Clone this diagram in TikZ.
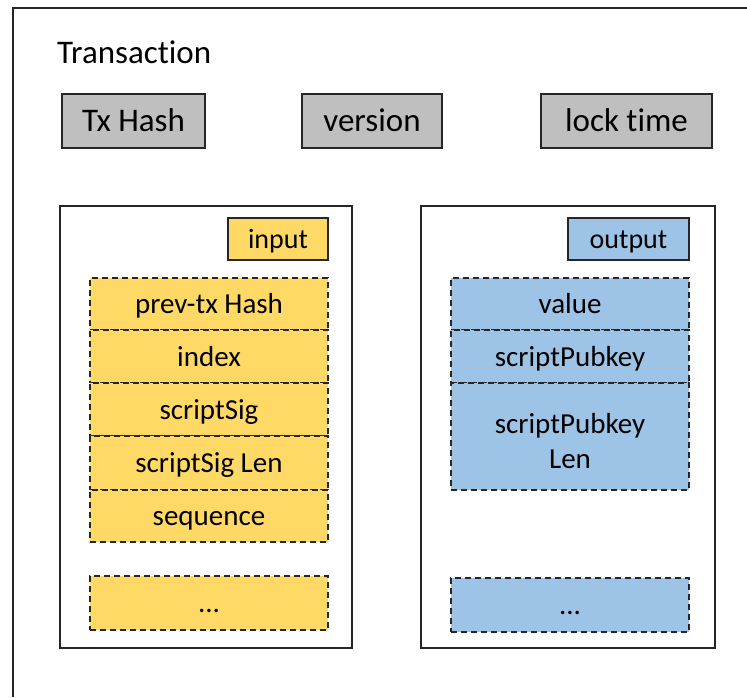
\documentclass[tikz,border=0pt]{standalone}
\usepackage{fontspec}
\setmainfont{Carlito}[Ligatures=NoCommon]
\definecolor{gfill}{HTML}{BFBFBF}
\definecolor{yfill}{HTML}{FFD966}
\definecolor{bfill}{HTML}{9DC3E6}
\definecolor{edge}{HTML}{262626}
\begin{document}
\begin{tikzpicture}[x=1pt,y=-1pt,
  topbox/.style={draw=edge, line width=2pt, fill=gfill, inner sep=0pt, minimum height=54pt, text height=20pt, text depth=0pt, font=\fontsize{33}{40}\selectfont},
  grp/.style={draw=edge, line width=1.5pt, fill=white, inner sep=0pt},
  lbl/.style={draw=edge, line width=1.8pt, inner sep=0pt, minimum height=42pt, text height=18pt, text depth=0pt, font=\fontsize{28}{34}\selectfont},
  row/.style={draw=edge, line width=1.5pt, dash pattern=on 6pt off 4pt, inner sep=0pt, minimum width=238pt, font=\fontsize{29}{35}\selectfont},
  one/.style={text height=19pt, text depth=0pt},
  yrow/.style={row, fill=yfill},
  brow/.style={row, fill=bfill}]
\useasboundingbox (0,0) rectangle (747,697);
\fill[white] (0,0) rectangle (747,697);
\draw[edge, line width=2pt] (13,697) -- (13,8) -- (747,8);
\node[anchor=base west, inner sep=0pt, font=\fontsize{33}{40}\selectfont] (title) at (57,63) {Transaction};
\node[topbox, minimum width=143pt] (txhash) at (133.5,121) {Tx Hash};
\node[topbox, minimum width=140pt] (version) at (372,121) {version};
\node[topbox, minimum width=171pt] (locktime) at (626.5,121) {lock time};
% groups
\node[grp, minimum width=292pt, minimum height=442pt] (ingrp) at (206,427) {};
\node[grp, minimum width=294pt, minimum height=442pt] (outgrp) at (568,427) {};
\node[lbl, fill=yfill, minimum width=100pt] (inlbl) at (278,239) {input};
\node[lbl, fill=bfill, minimum width=121pt] (outlbl) at (628.5,239) {output};
% input rows
\node[yrow, one, minimum height=52pt] (prev) at (209,304) {prev-tx Hash};
\node[yrow, one, minimum height=53pt] (index) at (209,356.5) {index};
\node[yrow, one, minimum height=53pt] (ssig) at (209,409.5) {scriptSig};
\node[yrow, one, minimum height=54pt] (ssiglen) at (209,463) {scriptSig Len};
\node[yrow, one, minimum height=52pt] (seq) at (209,516) {sequence};
\node[yrow, one, minimum height=54pt] (indots) at (209,603) {...};
% output rows
\node[brow, one, minimum height=52pt] (value) at (570,304) {value};
\node[brow, one, minimum height=53pt] (spk) at (570,356.5) {scriptPubkey};
\node[brow, minimum height=107pt, text height=19pt, text depth=26pt] (spklen) at (570,436.5) {\parbox[t]{200pt}{\centering scriptPubkey\\Len}};
\node[brow, one, minimum height=54pt] (outdots) at (570,605) {...};
\end{tikzpicture}
\end{document}
